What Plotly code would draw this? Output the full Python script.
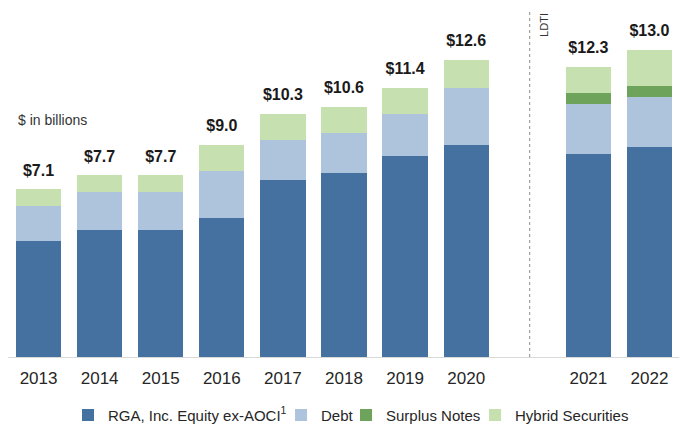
import plotly.graph_objects as go

# ---- data ----
years = ["2013", "2014", "2015", "2016", "2017", "2018", "2019", "2020", "2021", "2022"]
equity = [4.9, 5.4, 5.4, 5.9, 7.5, 7.8, 8.5, 9.0, 8.6, 8.9]
debt = [1.5, 1.6, 1.6, 2.0, 1.7, 1.7, 1.8, 2.4, 2.1, 2.1]
surplus = [None, None, None, None, None, None, None, None, 0.5, 0.5]
hybrid = [0.7, 0.7, 0.7, 1.1, 1.1, 1.1, 1.1, 1.2, 1.1, 1.5]
total_labels = ["$7.1", "$7.7", "$7.7", "$9.0", "$10.3", "$10.6", "$11.4", "$12.6", "$12.3", "$13.0"]
series_names = ["RGA, Inc. Equity ex-AOCI<sup>1</sup>", "Debt", "Surplus Notes", "Hybrid Securities"]
gap_cat = " "  # empty slot before the LDTI years
cat_order = years[:8] + [gap_cat] + years[8:]

FONT = "Liberation Sans, Arial, sans-serif"
COLORS = ["#4571a1", "#aec4dd", "#6ea35c", "#c6e0b0"]
LEGEND_X = [0.0893, 0.4063, 0.5030, 0.6950]

fig = go.Figure()
for i, (vals, name) in enumerate(zip([equity, debt, surplus, hybrid], series_names)):
    fig.add_trace(go.Bar(x=years, y=vals, name=name,
                         legend="legend" if i == 0 else "legend%d" % (i + 1),
                         marker=dict(color=COLORS[i], line=dict(width=0))))

totals = [e + d + (s or 0) + h for e, d, s, h in zip(equity, debt, surplus, hybrid)]
fig.add_trace(go.Scatter(x=years, y=totals, mode="markers+text",
                         marker=dict(size=14, color="rgba(0,0,0,0)"),
                         text=["<b>%s</b>" % t for t in total_labels],
                         textposition="top center", showlegend=False, hoverinfo="skip",
                         textfont=dict(family=FONT, size=16, color="#1a1a1a"),
                         cliponaxis=False))

fig.add_annotation(xref="paper", yref="paper", x=0.0115, y=0.693,
                   text="$ in billions", showarrow=False, xanchor="left", yanchor="middle",
                   font=dict(family=FONT, size=14, color="#333333"))

fig.add_annotation(xref="paper", yref="paper", x=0.7976, y=0.971,
                   xanchor="center", yanchor="middle",
                   text="LDTI", textangle=-90, showarrow=False,
                   font=dict(family=FONT, size=11, color="#333333"))

fig.add_shape(type="line", xref="x", yref="paper", x0=gap_cat, x1=gap_cat,
              x0shift=0.04, x1shift=0.04, y0=0, y1=1.015,
              line=dict(color="#8c8c8c", width=1, dash="3px,3px"))

legend_common = dict(orientation="h", xanchor="left", y=-0.170, yanchor="middle",
                     font=dict(family=FONT, size=15, color="#262626"),
                     itemwidth=30, bgcolor="rgba(0,0,0,0)")
fig.update_layout(
    barmode="stack",
    bargap=0.26,
    width=679, height=416,
    margin=dict(l=0, r=7, t=7, b=67, autoexpand=False),
    paper_bgcolor="white", plot_bgcolor="white",
    font=dict(family=FONT, color="#262626"),
    showlegend=True,
    legend=dict(x=LEGEND_X[0], **legend_common),
    legend2=dict(x=LEGEND_X[1], **legend_common),
    legend3=dict(x=LEGEND_X[2], **legend_common),
    legend4=dict(x=LEGEND_X[3], **legend_common),
)
fig.update_xaxes(type="category", categoryorder="array", categoryarray=cat_order,
                 range=[-0.5, 10.5], showgrid=False, showline=True, linecolor="#d9d9d9",
                 linewidth=1, ticks="outside", ticklen=6, tickcolor="rgba(0,0,0,0)",
                 tickfont=dict(family=FONT, size=17, color="#262626"),
                 tickvals=years, ticktext=years)
fig.update_yaxes(range=[0, 14.49], visible=False, showgrid=False, zeroline=False)

fig.write_html("out.html")
